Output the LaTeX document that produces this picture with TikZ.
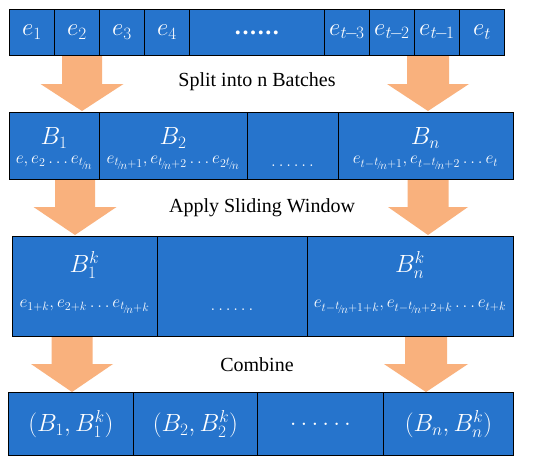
\documentclass[tikz,border=0pt]{standalone}
\usepackage{fontspec}
\setmainfont{Liberation Serif}
\definecolor{cellblue}{RGB}{38,116,204}
\definecolor{arrorange}{RGB}{249,177,125}
\newcommand{\tn}{\mathord{\raisebox{.3ex}{$\scriptstyle t$}\mkern-2mu\raisebox{0ex}{$\scriptscriptstyle/$}\mkern-2mu\raisebox{-.3ex}{$\scriptstyle n$}}}
\newcommand{\bdots}{\bfseries .\kern1.6pt.\kern1.6pt.\kern1.6pt.\kern1.6pt.\kern1.6pt.}
\newcommand{\blockarr}[6]{\fill[blockarrow] ({#1-#2},#4) -- ({#1+#2},#4) -- ({#1+#2},#5) -- ({#1+#3},#5) -- (#1,#6) -- ({#1-#3},#5) -- ({#1-#2},#5) -- cycle;}
\begin{document}
\begin{tikzpicture}[x=1pt,y=-1pt,
  cell/.style={draw=black, line width=0.9pt, fill=cellblue, anchor=north west, inner sep=0pt, text=white},
  bigtxt/.style={font=\fontsize{24}{28}\selectfont},
  lbl/.style={text=white, inner sep=0pt, font=\fontsize{23}{26}\selectfont},
  subtxt/.style={text=white, inner sep=0pt, font=\fontsize{17}{19}\selectfont},
  captxt/.style={text=black, inner sep=0pt, font=\fontsize{20}{24}\selectfont},
  blockarrow/.style={fill=arrorange}]
\useasboundingbox (0,0) rectangle (550,464);
\fill[white] (0,0) rectangle (550,464);
% arrows
\blockarr{82}{20}{41.5}{55}{84}{111}
\blockarr{428}{21}{41}{55}{84}{111}
\blockarr{75}{20}{41.5}{179}{207}{235}
\blockarr{428}{20.5}{40}{179}{207}{235}
\blockarr{72}{20.5}{41}{336}{364}{392}
\blockarr{426}{21}{42}{336}{364}{392}
% row 1
\node[cell,bigtxt,minimum width=45pt,minimum height=46pt] (a1) at (9,9) {$e_1$};
\node[cell,bigtxt,minimum width=45pt,minimum height=46pt] (a2) at (54,9) {$e_2$};
\node[cell,bigtxt,minimum width=45pt,minimum height=46pt] (a3) at (99,9) {$e_3$};
\node[cell,bigtxt,minimum width=45pt,minimum height=46pt] (a4) at (144,9) {$e_4$};
\node[cell,bigtxt,minimum width=135pt,minimum height=46pt] (a5) at (189,9) {\bdots};
\node[cell,bigtxt,minimum width=45pt,minimum height=46pt] (a6) at (324,9) {$e_{t\mkern-2mu-\mkern-2mu3}$};
\node[cell,bigtxt,minimum width=45pt,minimum height=46pt] (a7) at (369,9) {$e_{t\mkern-2mu-\mkern-2mu2}$};
\node[cell,bigtxt,minimum width=45pt,minimum height=46pt] (a8) at (414,9) {$e_{t\mkern-2mu-\mkern-2mu1}$};
\node[cell,bigtxt,minimum width=45pt,minimum height=46pt] (a9) at (459,9) {$e_t$};
\node[captxt] (c1) at (257,82) {Split into n Batches};
% row 2
\node[cell,minimum width=90pt,minimum height=67pt] (b1) at (9,112) {};
\node[cell,minimum width=148pt,minimum height=67pt] (b2) at (99,112) {};
\node[cell,minimum width=91pt,minimum height=67pt] (b3) at (247,112) {};
\node[cell,minimum width=175pt,minimum height=67pt] (b4) at (338,112) {};
\node[lbl] (b1t) at (54,138) {$B_1$};
\node[lbl] (b2t) at (173,138) {$B_2$};
\node[lbl] (b4t) at (425.5,138) {$B_n$};
\node[subtxt] (b1s) at (54,163) {$e, e_2\ldots e_{\tn}$};
\node[subtxt] (b2s) at (173,163) {$e_{\tn+1}, e_{\tn+2}\ldots e_{2\tn}$};
\node[subtxt] (b3s) at (292.5,166) {$\ldots\ldots$};
\node[subtxt] (b4s) at (425.5,163) {$e_{t-\tn+1}, e_{t-\tn+2}\ldots e_t$};
\node[captxt] (c2) at (262,208) {Apply Sliding Window};
% row 3
\node[cell,minimum width=145pt,minimum height=100pt] (d1) at (12,236) {};
\node[cell,minimum width=150pt,minimum height=100pt] (d2) at (157,236) {};
\node[cell,minimum width=206pt,minimum height=100pt] (d3) at (307,236) {};
\node[lbl] (d1t) at (84.5,265) {$B_1^k$};
\node[lbl] (d3t) at (410,265) {$B_n^k$};
\node[subtxt] (d1s) at (84.5,307) {$e_{1+k}, e_{2+k}\ldots e_{\tn+k}$};
\node[subtxt] (d2s) at (232,310) {$\ldots\ldots$};
\node[subtxt] (d3s) at (410,307) {$e_{t-\tn+1+k}, e_{t-\tn+2+k}\ldots e_{t+k}$};
\node[captxt] (c3) at (257,365) {Combine};
% row 4
\node[cell,lbl,minimum width=125pt,minimum height=63pt] (f1) at (8,392) {$(B_1,B_1^k)$};
\node[cell,lbl,minimum width=124pt,minimum height=63pt] (f2) at (133,392) {$(B_2,B_2^k)$};
\node[cell,lbl,minimum width=126pt,minimum height=63pt] (f3) at (257,392) {$\ldots\ldots$};
\node[cell,lbl,minimum width=130pt,minimum height=63pt] (f4) at (383,392) {$(B_n,B_n^k)$};
\end{tikzpicture}
\end{document}
